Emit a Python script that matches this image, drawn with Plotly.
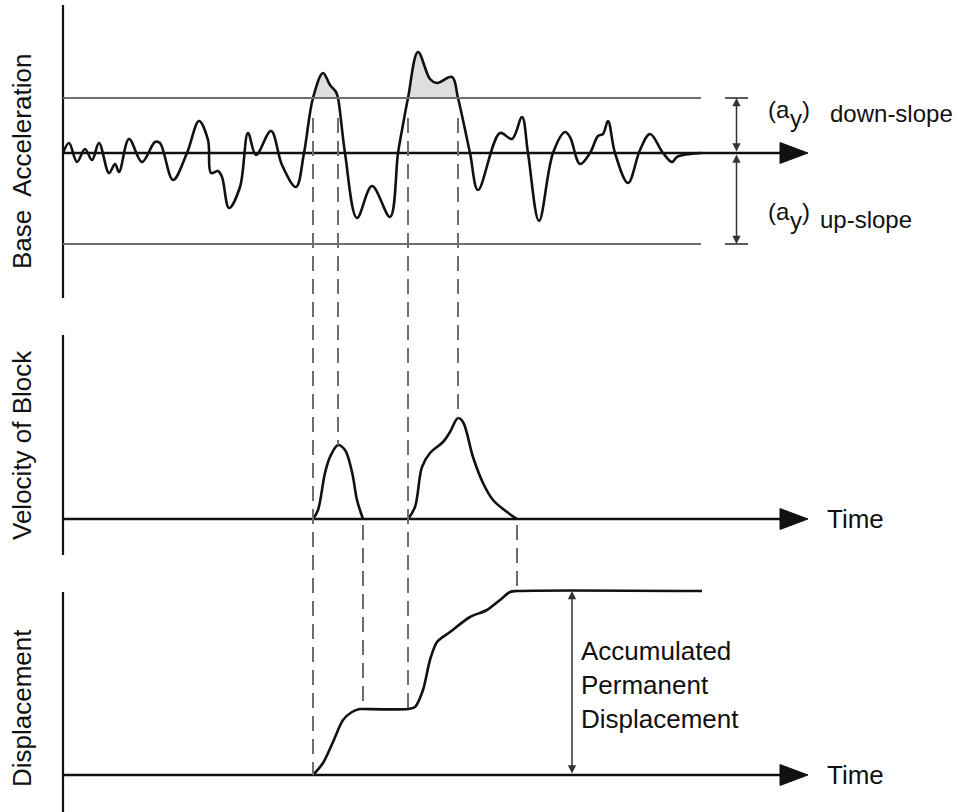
import plotly.graph_objects as go

W, H = 959, 812

# ---- time base shared by all three panels (arbitrary time units) ----
# Base acceleration record (normalised units)
accel_t = [0.0, 0.6, 1.4, 2.2, 2.9, 3.6, 4.6, 5.2, 5.6, 6.6, 7.9, 9.2, 9.7, 11.0,
           12.4, 13.6, 14.5, 14.8, 15.5, 15.9, 16.6, 17.7, 18.5, 19.3, 20.8, 21.9,
           23.3, 24.1, 25.0, 26.0, 26.7, 27.3, 27.5, 28.2, 29.4, 30.9, 32.7, 33.5,
           33.9, 34.5, 35.5, 36.7, 37.4, 38.9, 39.5, 40.7, 41.5, 43.7, 44.9, 45.9,
           46.5, 47.6, 49.0, 50.2, 50.7, 51.7, 52.7, 53.5, 54.0, 54.5, 55.2, 56.5,
           57.7, 58.7, 60.0, 60.9, 61.4, 62.7, 63.9]
accel_a = [0.00, 0.10, -0.09, 0.04, -0.07, 0.10, -0.20, -0.11, -0.19, 0.14, -0.09,
           0.11, 0.10, -0.27, 0.00, 0.32, 0.13, -0.20, -0.18, -0.24, -0.55, -0.34,
           0.20, -0.02, 0.22, -0.12, -0.34, 0.00, 0.55, 0.80, 0.68, 0.61, 0.55,
           0.00, -0.65, -0.33, -0.64, 0.00, 0.23, 0.55, 1.01, 0.74, 0.70, 0.76,
           0.55, 0.00, -0.37, 0.20, 0.14, 0.36, 0.00, -0.68, 0.00, 0.21, 0.16,
           -0.11, 0.00, 0.17, 0.19, 0.32, 0.00, -0.30, 0.03, 0.19, 0.00, -0.09,
           -0.04, -0.01, 0.00]

# Yield accelerations
AY_DOWN = 0.55
AY_UP = -0.91
T_END = 63.8

# Sliding episodes: start/end of exceedance of the down-slope yield level
yield_windows = [(25.0, 27.5), (34.5, 39.5)]

# Relative velocity of the block (two sliding pulses)
vel_t1 = [25.0, 25.5, 26.2, 26.7, 27.5, 28.2, 28.9, 29.4, 30.0]
vel_v1 = [0.00, 0.09, 0.46, 0.62, 0.74, 0.69, 0.47, 0.19, 0.00]
vel_t2 = [34.5, 35.2, 35.9, 36.7, 38.0, 38.7, 39.5, 40.0, 41.0, 42.0, 43.0, 44.4, 45.4]
vel_v2 = [0.00, 0.12, 0.52, 0.66, 0.77, 0.87, 1.01, 0.97, 0.62, 0.36, 0.19, 0.07, 0.00]

# Accumulated displacement of the block
disp_t = [25.0, 26.0, 27.0, 28.0, 28.9, 29.7, 30.0, 34.5, 35.2, 36.0, 36.7, 37.4,
          38.7, 40.7, 42.4, 43.7, 44.7, 45.4, 63.9]
disp_d = [0.00, 0.12, 0.33, 0.55, 0.63, 0.66, 0.66, 0.66, 0.68, 0.85, 1.15, 1.33,
          1.43, 1.58, 1.65, 1.75, 1.83, 1.84, 1.84]

BLACK = "#111111"
GREY = "#6e6e6e"
FONT = "Liberation Sans, Arial, sans-serif"

# panel layout: pixel band (top, bottom) and value range of each y axis
X_RANGE = [-6.3, 89.6]
panels = {
    "y":  dict(band=(0, 300),   rng=[-1.47, 1.53]),
    "y2": dict(band=(325, 565), rng=[-0.46, 1.94]),
    "y3": dict(band=(580, 812), rng=[-0.37, 1.95]),
}
for p in panels.values():
    p["dom"] = [1 - p["band"][1] / H, 1 - p["band"][0] / H]


def paper_y(ref, v):
    p = panels[ref]
    r0, r1 = p["rng"]
    d0, d1 = p["dom"]
    return d0 + (v - r0) / (r1 - r0) * (d1 - d0)


fig = go.Figure()

# shaded exceedance areas above the down-slope yield level
for t0, t1 in yield_windows:
    seg = [(t, a) for t, a in zip(accel_t, accel_a) if t0 <= t <= t1]
    fig.add_trace(go.Scatter(x=[t0, t1], y=[AY_DOWN, AY_DOWN], mode="lines",
                             line=dict(width=0, color="rgba(0,0,0,0)"),
                             hoverinfo="skip", showlegend=False, yaxis="y"))
    fig.add_trace(go.Scatter(x=[s[0] for s in seg], y=[s[1] for s in seg],
                             mode="lines", fill="tonexty", fillcolor="#dedede",
                             line=dict(width=0, shape="spline", color="rgba(0,0,0,0)"),
                             hoverinfo="skip", showlegend=False, yaxis="y"))

# acceleration record
fig.add_trace(go.Scatter(x=accel_t, y=accel_a, mode="lines",
                         line=dict(color=BLACK, width=2.6, shape="spline", smoothing=1.0),
                         showlegend=False, yaxis="y"))

# velocity pulses
fig.add_trace(go.Scatter(x=vel_t1 + [None] + vel_t2, y=vel_v1 + [None] + vel_v2,
                         mode="lines", connectgaps=False,
                         line=dict(color=BLACK, width=2.6, shape="spline", smoothing=1.0),
                         showlegend=False, yaxis="y2"))

# displacement
fig.add_trace(go.Scatter(x=disp_t, y=disp_d, mode="lines",
                         line=dict(color=BLACK, width=2.6, shape="spline", smoothing=0.8),
                         showlegend=False, yaxis="y3"))

shapes = []

# vertical axes and time axes with arrow heads
axis_tops = {"y": (1.48, -1.45), "y2": (1.84, -0.36), "y3": (1.83, -0.37)}
for ref, (top, bot) in axis_tops.items():
    shapes.append(dict(type="line", xref="x", yref=ref, x0=0, x1=0, y0=bot, y1=top,
                       line=dict(color=BLACK, width=2.2)))
    shapes.append(dict(type="line", xref="x", yref=ref, x0=0, x1=72.0, y0=0, y1=0,
                       line=dict(color=BLACK, width=2.6)))
    shapes.append(dict(type="path", xref="x", yref=ref,
                       path="M 71.7,0.105 L 74.5,0 L 71.7,-0.105 Z",
                       fillcolor=BLACK, line=dict(color=BLACK, width=1)))

# yield acceleration levels
for lvl in (AY_DOWN, AY_UP):
    shapes.append(dict(type="line", xref="x", yref="y", x0=0, x1=T_END, y0=lvl, y1=lvl,
                       line=dict(color=GREY, width=2)))
    shapes.append(dict(type="line", xref="x", yref="y", x0=66.2, x1=68.5, y0=lvl, y1=lvl,
                       line=dict(color="#333333", width=1.6)))

# drop lines linking the panels
DASH = dict(color=GREY, width=2, dash="15px,8px")
drop_lines = [
    (yield_windows[0][0], ("y", AY_DOWN - 0.2), ("y3", 0.0)),
    (yield_windows[0][1], ("y", AY_DOWN - 0.2), ("y2", max(vel_v1))),
    (yield_windows[1][0], ("y", AY_DOWN - 0.2), ("y3", disp_d[7])),
    (yield_windows[1][1], ("y", AY_DOWN - 0.2), ("y2", max(vel_v2))),
    (vel_t1[-1], ("y2", -0.06), ("y3", disp_d[6])),
    (vel_t2[-1], ("y2", -0.06), ("y3", disp_d[-1])),
]
for t, (r0, v0), (r1, v1) in drop_lines:
    shapes.append(dict(type="line", xref="x", yref="paper", x0=t, x1=t,
                       y0=paper_y(r0, v0), y1=paper_y(r1, v1), line=DASH))

annotations = []

# dimension arrows for the yield accelerations
for lvl in (AY_DOWN, AY_UP):
    annotations.append(dict(x=67.35, y=lvl, ax=67.35, ay=0, xref="x", yref="y",
                            axref="x", ayref="y", text="", showarrow=True,
                            arrowhead=2, arrowsize=1.1, arrowwidth=1.5,
                            arrowside="end+start", arrowcolor="#333333",
                            standoff=0, startstandoff=0))
# accumulated displacement arrow
annotations.append(dict(x=50.9, y=disp_d[-1], ax=50.9, ay=0, xref="x", yref="y3",
                        axref="x", ayref="y3", text="", showarrow=True,
                        arrowhead=2, arrowsize=1.1, arrowwidth=1.5,
                        arrowside="end+start", arrowcolor="#333333",
                        standoff=0, startstandoff=0))

TXT = dict(family=FONT, size=24, color=BLACK)
BIG = dict(family=FONT, size=26, color=BLACK)


def label(x, y, text, yref="y", **kw):
    d = dict(x=x, y=y, xref="x", yref=yref, text=text, showarrow=False,
             xanchor="left", yanchor="middle", font=TXT)
    d.update(kw)
    annotations.append(d)


# yield-acceleration symbols, (a_y) with a lowered, full-size subscript
for base, word, wx in ((0.44, "down-slope", 76.5), (-0.58, "up-slope", 75.5)):
    label(70.3, base, "(a")
    label(72.5, base - 0.09, "y")
    label(73.7, base, ")")
    label(wx, base - (0.04 if base > 0 else 0.08), word)

label(76.2, 0.0, "Time", yref="y2", font=BIG)
label(76.2, 0.0, "Time", yref="y3", font=BIG)
label(51.6, 0.90, "Accumulated<br>Permanent<br>Displacement", yref="y3", align="left",
      font=BIG)

# panel titles
for text, yc in (("Base  Acceleration", 162), ("Velocity of Block", 445),
                 ("Displacement", 708)):
    annotations.append(dict(x=22 / W, y=1 - yc / H, xref="paper", yref="paper",
                            text=text, textangle=-90, showarrow=False,
                            xanchor="center", yanchor="middle", font=BIG))

hidden = dict(visible=False, fixedrange=True, showgrid=False, zeroline=False)
fig.update_layout(
    width=W, height=H,
    margin=dict(l=0, r=0, t=0, b=0),
    paper_bgcolor="white", plot_bgcolor="white",
    showlegend=False,
    xaxis=dict(range=X_RANGE, domain=[0, 1], **hidden),
    yaxis=dict(range=panels["y"]["rng"], domain=panels["y"]["dom"], anchor="x", **hidden),
    yaxis2=dict(range=panels["y2"]["rng"], domain=panels["y2"]["dom"], anchor="x", **hidden),
    yaxis3=dict(range=panels["y3"]["rng"], domain=panels["y3"]["dom"], anchor="x", **hidden),
    shapes=shapes,
    annotations=annotations,
)

fig.write_html("out.html")
